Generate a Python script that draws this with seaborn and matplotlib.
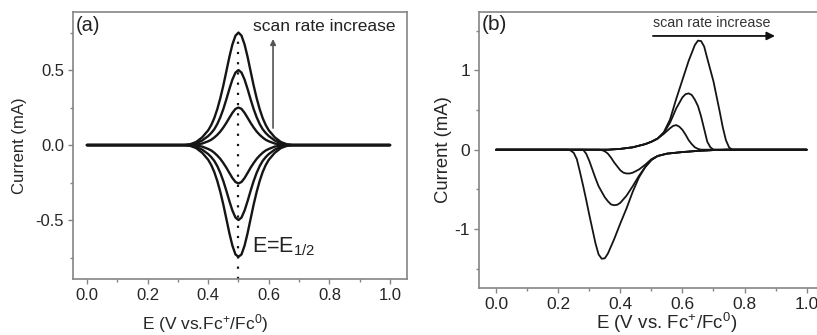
import numpy as np
import pandas as pd
import matplotlib
matplotlib.use("Agg")
import matplotlib.pyplot as plt
import seaborn as sns
from matplotlib.ticker import MultipleLocator

sns.set_style("ticks")
plt.rcParams['font.family'] = ['Liberation Sans', 'DejaVu Sans']
plt.rcParams['mathtext.fontset'] = 'custom'
plt.rcParams['mathtext.rm'] = 'Liberation Sans'
plt.rcParams['mathtext.it'] = 'Liberation Sans:italic'

# ---------------- Panel (a): reversible thin-layer CVs ----------------
E_a = [0.00, 0.30, 0.32, 0.34, 0.36, 0.38, 0.40, 0.41, 0.42, 0.43, 0.44, 0.45,
       0.46, 0.47, 0.48, 0.49, 0.50, 0.51, 0.52, 0.53, 0.54, 0.55, 0.56, 0.57,
       0.58, 0.59, 0.60, 0.62, 0.64, 0.66, 0.68, 0.70, 1.00]
ox_a1 = [0, 0, 0, 0, 0.004, 0.01, 0.025, 0.035, 0.05, 0.068, 0.09, 0.117, 0.148,
         0.182, 0.215, 0.241, 0.25, 0.241, 0.215, 0.182, 0.148, 0.117, 0.09,
         0.068, 0.05, 0.035, 0.025, 0.01, 0.004, 0, 0, 0, 0]
ox_a2 = [0, 0, 0, 0.003, 0.012, 0.03, 0.06, 0.08, 0.105, 0.14, 0.185, 0.24, 0.305,
         0.374, 0.437, 0.483, 0.50, 0.483, 0.437, 0.374, 0.305, 0.24, 0.185,
         0.14, 0.105, 0.08, 0.06, 0.03, 0.012, 0.003, 0, 0, 0]
ox_a3 = [0, 0, 0, 0.005, 0.02, 0.051, 0.098, 0.133, 0.179, 0.239, 0.312, 0.397,
         0.492, 0.588, 0.671, 0.729, 0.75, 0.729, 0.671, 0.588, 0.492, 0.397,
         0.312, 0.239, 0.179, 0.133, 0.098, 0.051, 0.02, 0.005, 0, 0, 0]
red_a1 = [0, 0, 0, 0, -0.004, -0.01, -0.026, -0.036, -0.051, -0.07, -0.092,
          -0.12, -0.151, -0.186, -0.22, -0.246, -0.256, -0.246, -0.22, -0.186,
          -0.151, -0.12, -0.092, -0.07, -0.051, -0.036, -0.026, -0.01, -0.004,
          0, 0, 0, 0]
red_a2 = [0, 0, 0, -0.003, -0.012, -0.03, -0.06, -0.08, -0.105, -0.14, -0.185,
          -0.24, -0.305, -0.374, -0.437, -0.483, -0.50, -0.483, -0.437, -0.374,
          -0.305, -0.24, -0.185, -0.14, -0.105, -0.08, -0.06, -0.03, -0.012,
          -0.003, 0, 0, 0]
red_a3 = [0, 0, 0, -0.005, -0.02, -0.051, -0.098, -0.133, -0.179, -0.239,
          -0.312, -0.397, -0.492, -0.588, -0.671, -0.729, -0.745, -0.729,
          -0.671, -0.588, -0.492, -0.397, -0.312, -0.239, -0.179, -0.133,
          -0.098, -0.051, -0.02, -0.005, 0, 0, 0]
E_half = 0.5

# ---------------- Panel (b): quasi-reversible CVs ----------------
E_b_ox1 = [0.00, 0.36, 0.40, 0.44, 0.48, 0.50, 0.52, 0.54, 0.56, 0.57, 0.58, 0.59,
           0.60, 0.61, 0.62, 0.63, 0.64, 0.65, 0.66, 1.00]
I_b_ox1 = [0, 0, 0.01, 0.03, 0.07, 0.10, 0.14, 0.20, 0.27, 0.30, 0.31, 0.29,
           0.25, 0.19, 0.12, 0.07, 0.03, 0.01, 0, 0]
E_b_ox2 = [0.00, 0.36, 0.40, 0.44, 0.48, 0.50, 0.52, 0.54, 0.56, 0.58, 0.60, 0.61,
           0.62, 0.63, 0.64, 0.65, 0.66, 0.67, 0.68, 0.69, 0.70, 1.00]
I_b_ox2 = [0, 0, 0.01, 0.03, 0.07, 0.10, 0.14, 0.21, 0.34, 0.52, 0.66, 0.70,
           0.71, 0.69, 0.63, 0.55, 0.42, 0.26, 0.10, 0.03, 0, 0]
E_b_ox3 = [0.00, 0.36, 0.40, 0.44, 0.48, 0.50, 0.52, 0.54, 0.56, 0.58, 0.60, 0.62,
           0.64, 0.65, 0.66, 0.67, 0.68, 0.70, 0.72, 0.73, 0.74, 0.75, 0.76, 1.00]
I_b_ox3 = [0, 0, 0.01, 0.03, 0.07, 0.10, 0.14, 0.22, 0.38, 0.64, 0.88, 1.12,
           1.32, 1.375, 1.37, 1.30, 1.15, 0.86, 0.48, 0.28, 0.12, 0.03, 0, 0]
E_b_red1 = [1.00, 0.75, 0.70, 0.65, 0.60, 0.55, 0.52, 0.50, 0.48, 0.46, 0.44,
            0.43, 0.42, 0.41, 0.40, 0.39, 0.38, 0.37, 0.36, 0.35, 0.34, 0.33, 0.00]
I_b_red1 = [0, 0, -0.005, -0.015, -0.03, -0.05, -0.08, -0.12, -0.19, -0.25,
            -0.29, -0.30, -0.30, -0.29, -0.26, -0.21, -0.16, -0.10, -0.05,
            -0.02, -0.005, 0, 0]
E_b_red2 = [1.00, 0.75, 0.70, 0.65, 0.60, 0.55, 0.52, 0.50, 0.48, 0.46, 0.44,
            0.42, 0.40, 0.39, 0.38, 0.37, 0.36, 0.35, 0.34, 0.33, 0.32, 0.31,
            0.30, 0.29, 0.28, 0.00]
I_b_red2 = [0, 0, -0.005, -0.015, -0.03, -0.05, -0.08, -0.13, -0.22, -0.33,
            -0.46, -0.58, -0.67, -0.695, -0.70, -0.69, -0.65, -0.60, -0.53,
            -0.46, -0.36, -0.25, -0.14, -0.05, 0, 0]
E_b_red3 = [1.00, 0.75, 0.70, 0.65, 0.60, 0.55, 0.52, 0.50, 0.48, 0.46, 0.44,
            0.42, 0.40, 0.38, 0.36, 0.35, 0.34, 0.33, 0.32, 0.31, 0.30, 0.29,
            0.28, 0.27, 0.26, 0.25, 0.24, 0.23, 0.00]
I_b_red3 = [0, 0, -0.005, -0.015, -0.03, -0.05, -0.08, -0.13, -0.22, -0.35,
            -0.53, -0.74, -0.93, -1.13, -1.31, -1.37, -1.375, -1.32, -1.18,
            -1.00, -0.82, -0.63, -0.45, -0.28, -0.12, -0.04, -0.01, 0, 0]

x_ticks = [0.0, 0.2, 0.4, 0.6, 0.8, 1.0]
x_ticklabels = ["0.0", "0.2", "0.4", "0.6", "0.8", "1.0"]
ya_ticks = [-0.5, 0.0, 0.5]
ya_ticklabels = ["-0.5", "0.0", "0.5"]
yb_ticks = [-1, 0, 1]
yb_ticklabels = ["-1", "0", "1"]


def long_df(curves):
    parts = []
    for name, (e, i) in curves.items():
        parts.append(pd.DataFrame({"E": e, "I": i, "curve": name}))
    return pd.concat(parts, ignore_index=True)


df_a = long_df({
    "ox1": (E_a, ox_a1), "ox2": (E_a, ox_a2), "ox3": (E_a, ox_a3),
    "red1": (E_a, red_a1), "red2": (E_a, red_a2), "red3": (E_a, red_a3),
})
df_b = long_df({
    "ox1": (E_b_ox1, I_b_ox1), "ox2": (E_b_ox2, I_b_ox2), "ox3": (E_b_ox3, I_b_ox3),
    "red1": (E_b_red1, I_b_red1), "red2": (E_b_red2, I_b_red2),
    "red3": (E_b_red3, I_b_red3),
})

fig = plt.figure(figsize=(8.17, 3.35), dpi=100)
W, H = 817, 335
ax1 = fig.add_axes([73 / W, 1 - 279 / H, (407 - 73) / W, (279 - 12) / H])
ax2 = fig.add_axes([479 / W, 1 - 288 / H, (825 - 479) / W, (288 - 12) / H])

line_col = "#151515"
frame_col = "#858585"

sns.lineplot(data=df_a, x="E", y="I", units="curve", estimator=None, sort=False,
             color=line_col, lw=1.7, ax=ax1, legend=False)
sns.lineplot(data=df_b, x="E", y="I", units="curve", estimator=None, sort=False,
             color=line_col, lw=1.3, ax=ax2, legend=False)

# axes styling
for ax in (ax1, ax2):
    for s in ax.spines.values():
        s.set_color(frame_col)
        s.set_linewidth(1.2)
    ax.tick_params(which="major", direction="out", length=3.5, width=1.0,
                   color=frame_col, pad=3)
    ax.tick_params(which="minor", direction="out", length=2, width=1.0,
                   color=frame_col)
    ax.set_xticks(x_ticks)
    ax.xaxis.set_minor_locator(MultipleLocator(0.1))

ax1.set_xlim(-0.046, 1.056)
ax1.set_ylim(-0.893, 0.887)
ax1.set_xticklabels(x_ticklabels, fontsize=12)
ax1.set_yticks(ya_ticks)
ax1.set_yticklabels(ya_ticklabels, fontsize=12)
ax1.yaxis.set_minor_locator(MultipleLocator(0.25))
ax1.set_xlabel(r"E (V vs.Fc$^{+}$/Fc$^{0}$)", fontsize=12.5)
ax1.set_ylabel("Current (mA)", fontsize=12)
ax1.xaxis.set_label_coords(0.395, -0.165)
ax1.xaxis.label.set_va("center")
ax1.yaxis.set_label_coords(-0.159, 0.5)
ax1.yaxis.label.set_va("center")

ax2.set_xlim(-0.055, 1.059)
ax2.set_ylim(-1.744, 1.736)
ax2.set_xticklabels(x_ticklabels, fontsize=12.5)
ax2.set_yticks(yb_ticks)
ax2.set_yticklabels(yb_ticklabels, fontsize=12.5)
ax2.yaxis.set_minor_locator(MultipleLocator(0.5))
ax2.set_xlabel(r"E (V vs. Fc$^{+}$/Fc$^{0}$)", fontsize=13.5)
ax2.set_ylabel("Current (mA)", fontsize=13.3)
ax2.xaxis.set_label_coords(0.543, -0.125)
ax2.xaxis.label.set_va("center")
ax2.yaxis.set_label_coords(-0.104, 0.5)
ax2.yaxis.label.set_va("center")

# annotations panel (a)
ax1.vlines(E_half, -0.893, 0.72, colors=line_col, lw=1.6,
           linestyles=[(0, (1.0, 3.6))])
ax1.annotate("", xy=(0.614, 0.707), xytext=(0.614, 0.113),
             arrowprops=dict(arrowstyle="-|>", color="#555555", lw=1.2,
                             mutation_scale=8, shrinkA=0, shrinkB=0))
ax1.text(0.548, 0.793, "scan rate increase", fontsize=12.5, ha="left",
         va="center", color="#222222")
ax1.text(0.545, -0.68, r"E=E$_{\mathrm{1/2}}$", fontsize=15.5, ha="left",
         va="center", color="#222222")
ax1.text(0.009, 0.951, "(a)", transform=ax1.transAxes, fontsize=14.5,
         ha="left", va="center", color="#222222")

# annotations panel (b)
ax2.annotate("", xy=(0.898, 1.434), xytext=(0.505, 1.434),
             arrowprops=dict(arrowstyle="-|>", color="#111111", lw=1.3,
                             mutation_scale=12, shrinkA=0, shrinkB=0))
ax2.text(0.505, 1.598, "scan rate increase", fontsize=10.3, ha="left",
         va="center", color="#333333")
ax2.text(0.009, 0.953, "(b)", transform=ax2.transAxes, fontsize=15,
         ha="left", va="center", color="#222222")

fig.savefig("out.png", dpi=100)
